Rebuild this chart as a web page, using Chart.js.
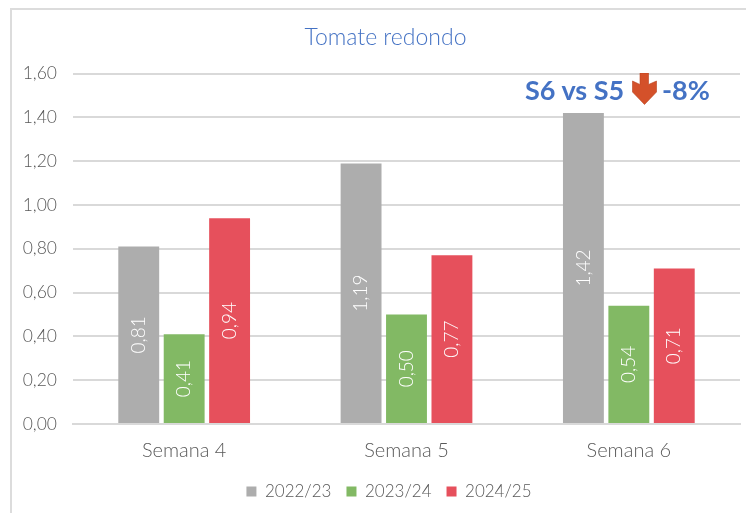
<!DOCTYPE html>
<html><head><meta charset="utf-8">
<script src="https://cdn.jsdelivr.net/npm/chart.js@4"></script>
<style>
html,body{margin:0;padding:0;background:#fff;width:746px;height:513px;overflow:hidden}
#wrap{position:absolute;left:0;top:0;width:746px;height:513px}
#frameL{position:absolute;left:10px;top:8px;width:2px;height:505px;background:#dcdcdc}
#frameT{position:absolute;left:10px;top:8px;width:736px;height:2px;background:#dcdcdc}
#note{position:absolute;left:525px;top:75px;font:bold 27px Lato,sans-serif;color:#4472c4;white-space:nowrap;line-height:30px}
#arrow{position:absolute;left:632px;top:73px}
#pct{position:absolute;left:662px;top:75px;font:bold 27px Lato,sans-serif;color:#4472c4;line-height:30px}
canvas{position:absolute;left:0;top:0}
</style></head><body>
<div id="wrap">
<canvas id="c" width="746" height="513"></canvas>
<div id="frameL"></div><div id="frameT"></div>
<div id="note">S6 vs S5</div>
<svg id="arrow" width="25" height="32" viewBox="0 0 25 32"><path d="M8 0H16.5V11.5L24.5 8V19L12.5 31.5L0.5 19V8L8 11.5Z" fill="#d4512a" stroke="#b8431f" stroke-width="0.6"/></svg>
<div id="pct">-8%</div>
</div>
<script>
const categories=["Semana 4","Semana 5","Semana 6"];
const seriesNames=["2022/23","2023/24","2024/25"];
const values2223=[0.81,1.19,1.42];
const values2324=[0.41,0.50,0.54];
const values2425=[0.94,0.77,0.71];
const seriesColors=["#adadad","#82b964","#e6505c"];
const titleText="Tomate redondo";
const FONT="Lato, sans-serif";
const fmt=v=>v.toFixed(2).replace(".",",");
const barLabels={id:"barLabels",
 afterLayout(chart){
  chart.titleBlock.left+=6;chart.titleBlock.right+=6;
  chart.legend.left+=9.5;chart.legend.right+=9.5;
 },
 afterDatasetsDraw(chart){
  const ctx=chart.ctx;
  chart.data.datasets.forEach((ds,i)=>{
    chart.getDatasetMeta(i).data.forEach((bar,j)=>{
      const y=(bar.y+bar.base)/2;
      ctx.save();ctx.translate(bar.x,y);ctx.rotate(-Math.PI/2);
      ctx.fillStyle="#ffffff";ctx.font="300 19px "+FONT;
      ctx.textAlign="center";ctx.textBaseline="middle";
      ctx.fillText(fmt(ds.data[j]),0,0);ctx.restore();
    });
  });
}};
new Chart(document.getElementById("c"),{
  type:"bar",
  data:{labels:categories,datasets:[values2223,values2324,values2425].map((d,i)=>({
    label:seriesNames[i],data:d,backgroundColor:seriesColors[i],
    barPercentage:0.9,categoryPercentage:0.613}))},
  options:{
    responsive:false,animation:false,
    layout:{padding:{left:19,right:6,top:24,bottom:3}},
    plugins:{
      title:{display:true,text:titleText,color:"#4472c4",font:{family:FONT,size:23,weight:"300"},padding:{top:0,bottom:22}},
      legend:{position:"bottom",labels:{boxWidth:10,boxHeight:10,padding:15,color:"#595959",font:{family:FONT,size:17,weight:"300"}}},
      tooltip:{enabled:false}
    },
    scales:{
      x:{grid:{display:false},border:{color:"#d9d9d9",width:2},afterFit(a){a.height=44;},
         ticks:{color:"#595959",padding:7,font:{family:FONT,size:20,weight:"300"}}},
      y:{min:0,max:1.6,afterFit(a){a.width=54;},
         grid:{color:"#d9d9d9",lineWidth:2,drawTicks:false},border:{display:false},
         ticks:{stepSize:0.2,color:"#595959",padding:16,font:{family:FONT,size:17.5,weight:"300"},callback:v=>fmt(v)}}
    }
  },
  plugins:[barLabels]
});
</script>
</body></html>
